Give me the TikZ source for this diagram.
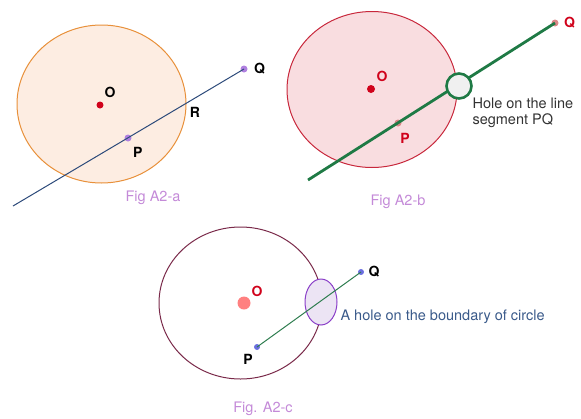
\documentclass[tikz,border=0pt]{standalone}
\usepackage{fontspec}
\setmainfont{TeX Gyre Heros}
\usepackage{xcolor}
\usetikzlibrary{positioning}
\definecolor{ringA}{HTML}{E8903A}
\definecolor{fillA}{HTML}{FDEDE2}
\definecolor{lineA}{HTML}{2C4A7A}
\definecolor{ptA}{HTML}{B080E0}
\definecolor{redO}{HTML}{D0021B}
\definecolor{capcol}{HTML}{C48AD8}
\definecolor{ringB}{HTML}{C8283C}
\definecolor{fillB}{HTML}{F9DDE0}
\definecolor{lineB}{HTML}{1F7A45}
\definecolor{ptB}{HTML}{D98888}
\definecolor{ringC}{HTML}{7A2A4A}
\definecolor{lineC}{HTML}{2E7D4F}
\definecolor{ptC}{HTML}{6B6FE0}
\definecolor{holeC}{HTML}{8A3FC8}
\definecolor{holefill}{HTML}{ECE4F4}
\definecolor{textC}{HTML}{3A5A8A}

\begin{document}
\begin{tikzpicture}[
    x=1pt, y=-1pt,
    dot/.style={circle, inner sep=0pt, minimum size=7pt},
    lbl/.style={font=\fontsize{14}{16}\selectfont\bfseries},
    caption/.style={font=\fontsize{14.5}{16}\selectfont, text=capcol},
    note/.style={font=\fontsize{14.5}{16}\selectfont, align=left, anchor=west}
]
    \useasboundingbox (0,0) rectangle (581,418);

    % Fig A2-a
    \draw[ringA, fill=fillA, line width=1pt] (101.5,104) ellipse (84.5 and 79);
    \node[dot, fill=redO] (aO) at (100,105) {};
    \node[lbl] at (110,92) {O};
    \coordinate (aS) at (13,206);
    \node[dot, fill=ptA] (aQ) at (244,69) {};
    \node[dot, fill=ptA] (aP) at (128,138) {};
    \draw[lineA, line width=1pt] (aS) -- (aQ.center);
    \node[lbl, right=3pt of aQ] {Q};
    \node[lbl, below right=3pt and -1pt of aP] {P};
    \node[lbl] at (195,112) {R};
    \node[caption] at (153,198) {Fig A2-a};

    % Fig A2-b
    \draw[ringB, fill=fillB, line width=1pt] (372,89.5) ellipse (85 and 78);
    \node[dot, fill=redO, minimum size=8pt] (bO) at (371,89) {};
    \node[lbl, text=redO] at (382,76) {O};
    \coordinate (bS) at (308,180);
    \node[dot, fill=ptB] (bQ) at (555,23) {};
    \node[dot, fill=ptB] (bP) at (398,123) {};
    \draw[lineB, line width=2.8pt] (bS) -- (bQ.center);
    \node[draw=lineB, line width=2.6pt, fill=gray!12, circle, minimum size=25pt] (bHole) at (459,86) {};
    \node[lbl, text=redO, right=2pt of bQ] {Q};
    \node[lbl, text=redO] at (405,138) {P};
    \node[note, text=black!80] at (469,113) {Hole on the line\\segment PQ};
    \node[caption] at (398,202) {Fig A2-b};

    % Fig A2-c
    \draw[ringC, line width=1pt] (240.5,303) ellipse (81.5 and 76);
    \node[dot, fill=red!50, minimum size=13pt] (cO) at (244,303) {};
    \node[lbl, text=redO] at (257,291) {O};
    \draw[holeC, fill=holefill, line width=1pt] (321,302) ellipse (16 and 23);
    \node[dot, fill=ptC, minimum size=6pt] (cP) at (257,347) {};
    \node[dot, fill=ptC, minimum size=6pt] (cQ) at (361,272) {};
    \draw[lineC, line width=1pt] (cP.center) -- (cQ.center);
    \node[lbl, right=1pt of cQ] {Q};
    \node[lbl] at (248,359) {P};
    \node[note, text=textC] at (337,317) {A hole on the boundary of circle};
    \node[caption] at (263,409) {Fig. A2-c};
\end{tikzpicture}
\end{document}
